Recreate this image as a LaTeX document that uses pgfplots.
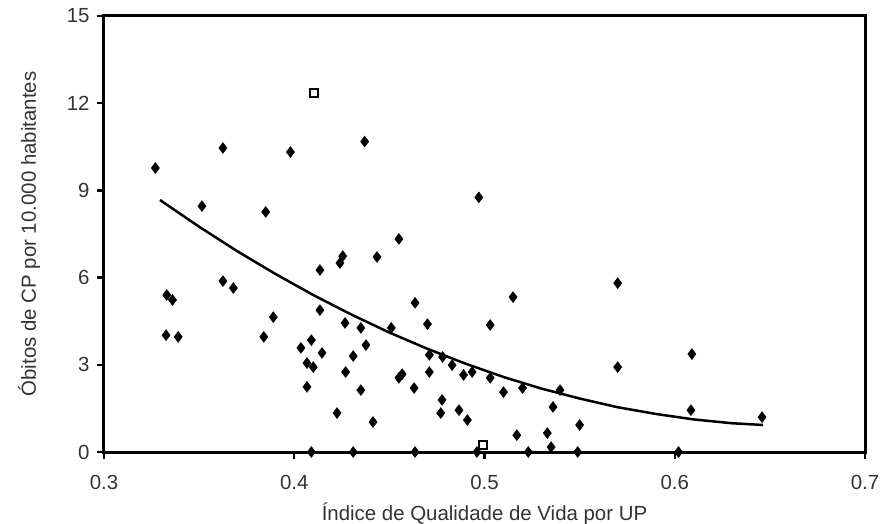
\documentclass[border=0pt]{standalone}
\usepackage{fontspec}
\setmainfont{Liberation Sans}
\usepackage{pgfplots}
\pgfplotsset{compat=1.18}
\begin{document}
\begin{tikzpicture}
\useasboundingbox (-104bp,-72bp) rectangle (782bp,452bp);
\begin{axis}[
  at={(0,0)}, anchor=south west,
  scale only axis, width=761bp, height=436bp,
  xmin=0.3, xmax=0.7, ymin=0, ymax=15,
  xtick={0.3,0.4,0.5,0.6,0.7}, ytick={0,3,6,9,12,15},
  xticklabel style={/pgf/number format/fixed, /pgf/number format/precision=1, /pgf/number format/fixed zerofill, yshift=-13bp},
  yticklabel style={xshift=-4bp},
  /pgf/number format/assume math mode=true,
  tick pos=left, tick align=outside,
  major tick length=7bp,
  every tick/.style={black, line width=2.5bp},
  axis line style={line width=3bp},
  ticklabel style={font=\fontsize{20.5}{24}\selectfont, text=black!80},
  label style={font=\fontsize{20.5}{24}\selectfont, text=black!80},
  xlabel={Índice de Qualidade de Vida por UP},
  ylabel={Óbitos de CP por 10.000 habitantes},
  xlabel style={at={(axis description cs:0.5,-0.156)}, anchor=base},
  ylabel style={at={(axis description cs:-0.0894,0.5)}, anchor=base},
  clip=false,
]
% trend line
\addplot[black, line width=2.5bp, no marks] coordinates {
 (0.3294,8.67) (0.35,7.75) (0.37,6.91) (0.39,6.13) (0.41,5.40)
 (0.43,4.73) (0.45,4.11) (0.47,3.55) (0.49,3.04) (0.51,2.58)
 (0.53,2.18) (0.55,1.84) (0.57,1.54) (0.59,1.31) (0.61,1.12)
 (0.63,0.99) (0.6464,0.93) };
% points
\addplot[only marks, mark=diamond*, mark size=5.5bp, black] coordinates {
 (0.327,9.77) (0.3515,8.46) (0.3625,10.46) (0.398,10.32) (0.385,8.26)
 (0.437,10.68) (0.497,8.76) (0.455,7.33) (0.424,6.50) (0.4255,6.74)
 (0.4435,6.71) (0.333,5.40) (0.336,5.23) (0.3326,4.02) (0.339,3.96)
 (0.3625,5.88) (0.368,5.64) (0.389,4.64) (0.384,3.96) (0.4135,6.26)
 (0.4135,4.88) (0.4035,3.58) (0.409,3.85) (0.4146,3.41) (0.4067,3.06)
 (0.410,2.92) (0.4067,2.24) (0.4225,1.34) (0.409,0) (0.4635,5.13)
 (0.515,5.33) (0.4267,4.44) (0.435,4.27) (0.451,4.27) (0.470,4.40)
 (0.503,4.37) (0.4377,3.68) (0.431,3.30) (0.427,2.75) (0.471,3.34)
 (0.478,3.27) (0.483,2.99) (0.471,2.75) (0.489,2.65) (0.4935,2.75)
 (0.503,2.55) (0.520,2.20) (0.510,2.06) (0.455,2.55) (0.4567,2.68)
 (0.435,2.13) (0.463,2.20) (0.4414,1.03) (0.4777,1.79) (0.477,1.34)
 (0.4866,1.44) (0.491,1.10) (0.517,0.58) (0.431,0) (0.4635,0)
 (0.496,0) (0.523,0) (0.570,5.81) (0.570,2.92) (0.609,3.37)
 (0.6085,1.44) (0.5397,2.13) (0.536,1.55) (0.550,0.93) (0.533,0.65)
 (0.535,0.17) (0.549,0) (0.602,0) (0.6459,1.20) };
\addplot[only marks, mark=square, mark size=4bp, black, line width=2bp] coordinates {
 (0.4104,12.35) (0.4992,0.24) };
\end{axis}
\end{tikzpicture}
\end{document}
